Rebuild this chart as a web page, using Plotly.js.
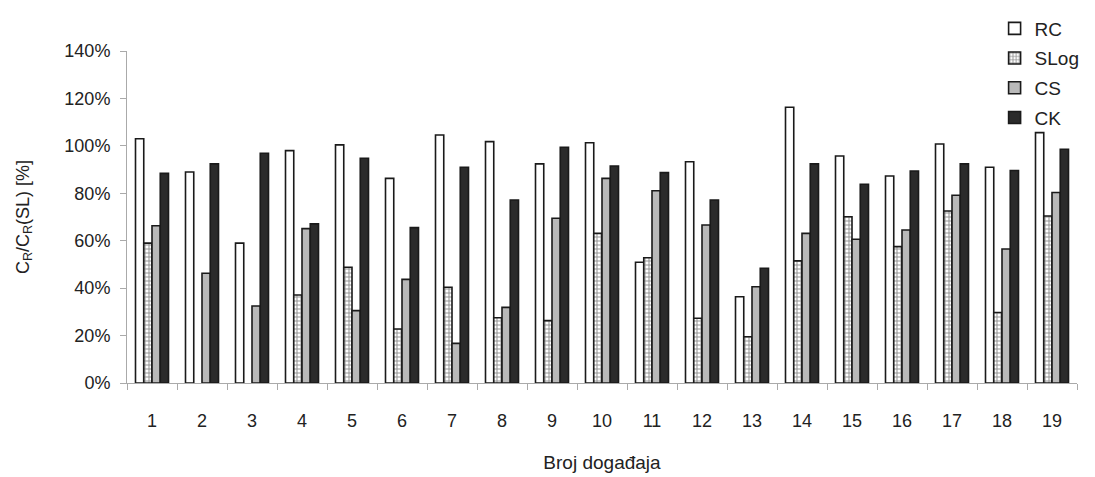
<!DOCTYPE html>
<html>
<head>
<meta charset="utf-8">
<script src="https://cdn.plot.ly/plotly-3.0.1.min.js"></script>
<style>html,body{margin:0;padding:0;background:#fff;}#chart{width:1095px;height:477px;}</style>
</head>
<body>
<div id="chart"></div>
<script>
const categories = ['1','2','3','4','5','6','7','8','9','10','11','12','13','14','15','16','17','18','19'];
const rcValues   = [103, 89, 59, 98, 100.4, 86.3, 104.6, 101.8, 92.4, 101.3, 50.9, 93.3, 36.4, 116.3, 95.7, 87.3, 100.8, 91, 105.6];
const slogValues = [59, null, null, 37.1, 48.8, 22.8, 40.4, 27.5, 26.3, 63.1, 52.8, 27.3, 19.5, 51.5, 70.1, 57.5, 72.5, 29.7, 70.4];
const csValues   = [66.3, 46.3, 32.5, 65.1, 30.5, 43.7, 16.7, 31.9, 69.5, 86.3, 81.1, 66.6, 40.6, 63.1, 60.6, 64.5, 79.2, 56.5, 80.3];
const ckValues   = [88.4, 92.4, 96.9, 67.1, 94.8, 65.5, 91, 77.2, 99.4, 91.5, 88.7, 77.2, 48.4, 92.4, 83.8, 89.4, 92.4, 89.6, 98.6];
const seriesNames = ['RC', 'SLog', 'CS', 'CK'];

const line = {color: '#1a1a1a', width: 1.6};
const font = 'Liberation Sans, Arial, sans-serif';

const traces = [
  {name: seriesNames[0], y: rcValues, marker: {color: '#ffffff', line: line}},
  {name: seriesNames[1], y: slogValues, marker: {color: '#ffffff', line: line,
     pattern: {shape: '+', size: 4, solidity: 0.45, fgcolor: '#2a2a2a', bgcolor: '#ffffff', fillmode: 'overlay'}}},
  {name: seriesNames[2], y: csValues, marker: {color: '#b9b9b9', line: line}},
  {name: seriesNames[3], y: ckValues, marker: {color: '#2b2b2b', line: line}}
].map((t, i) => Object.assign({type: 'bar', x: categories, legendgroup: 'g' + i, hoverinfo: 'y+name'}, t));

const layout = {
  width: 1095, height: 477,
  margin: {l: 127, r: 10, t: 51, b: 94},
  paper_bgcolor: '#ffffff', plot_bgcolor: '#ffffff',
  barmode: 'group', bargap: 0.34, bargroupgap: 0,
  font: {family: font, color: '#222222', size: 17},
  showlegend: true,
  legend: {x: 1.008, xanchor: 'right', y: 1.125, yanchor: 'top', bgcolor: 'rgba(0,0,0,0)',
           font: {family: font, size: 19, color: '#222222'}, tracegroupgap: 2, traceorder: 'grouped', itemwidth: 30},
  xaxis: {
    type: 'category', tickson: 'boundaries', ticks: 'outside', ticklen: 6, tickcolor: '#aaaaaa',
    showline: true, linecolor: '#aaaaaa', linewidth: 1, showgrid: false, zeroline: false,
    tickfont: {family: font, size: 18, color: '#222222'}, ticklabelstandoff: 21,
    title: {text: 'Broj događaja', font: {family: font, size: 19, color: '#222222'}, standoff: 26}
  },
  yaxis: {
    range: [0, 140], tickvals: [0, 20, 40, 60, 80, 100, 120, 140],
    ticktext: ['0%', '20%', '40%', '60%', '80%', '100%', '120%', '140%'],
    ticks: 'outside', ticklen: 6, tickcolor: '#aaaaaa',
    showline: true, linecolor: '#aaaaaa', linewidth: 1, showgrid: false, zeroline: false,
    tickfont: {family: font, size: 18, color: '#222222'}, ticklabelstandoff: 6,
    title: {text: 'C<sub>R</sub>/C<sub>R</sub>(SL) [%]', font: {family: font, size: 18, color: '#222222'}, standoff: 30}
  }
};

Plotly.newPlot('chart', traces, layout, {displayModeBar: false, staticPlot: true});
</script>
</body>
</html>
